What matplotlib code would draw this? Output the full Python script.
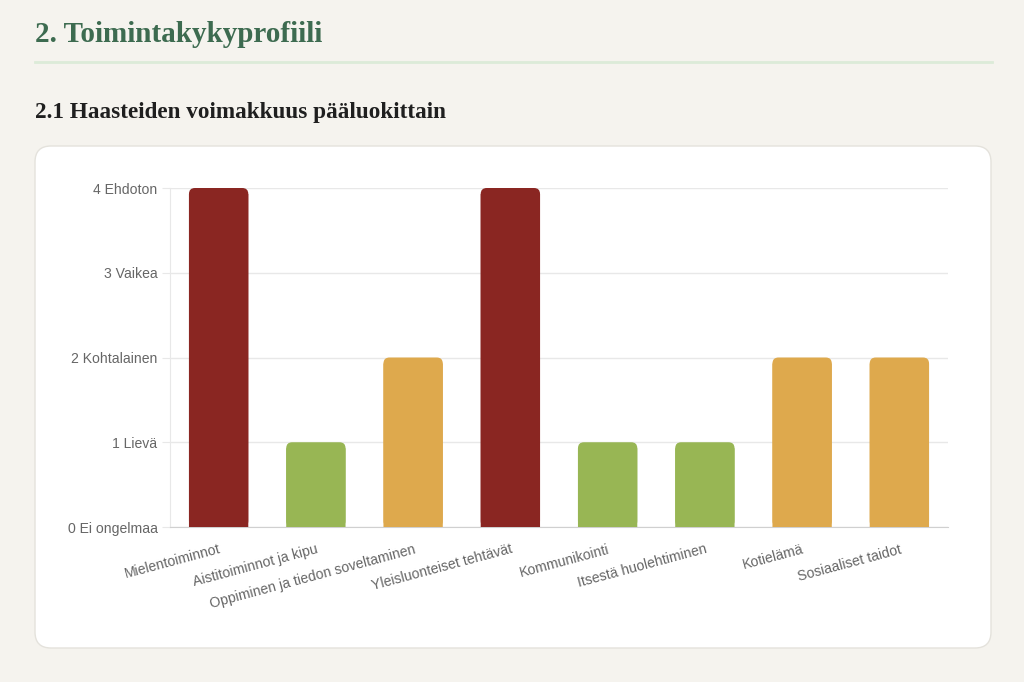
import matplotlib
matplotlib.use("Agg")
import matplotlib.pyplot as plt
from matplotlib.patches import FancyBboxPatch, Rectangle
from matplotlib.transforms import IdentityTransform
from matplotlib.lines import Line2D

# chart data
categories = ["Mielentoiminnot", "Aistitoiminnot ja kipu",
              "Oppiminen ja tiedon soveltaminen", "Yleisluonteiset tehtävät",
              "Kommunikointi", "Itsestä huolehtiminen", "Kotielämä",
              "Sosiaaliset taidot"]
values = [4, 1, 2, 4, 1, 1, 2, 2]
level_labels = ["0 Ei ongelmaa", "1 Lievä", "2 Kohtalainen", "3 Vaikea", "4 Ehdoton"]
level_colors = {1: "#98b654", 2: "#dea94d", 3: "#c0602f", 4: "#8a2622"}

W, H = 1024, 682
fig = plt.figure(figsize=(W / 100, H / 100), dpi=100)
fig.patch.set_facecolor("#f5f3ee")

# white card behind the chart (pixel coords)
card = FancyBboxPatch((35, H - 648), 956, 502,
                      boxstyle="round,pad=0,rounding_size=16",
                      transform=IdentityTransform(), facecolor="white",
                      edgecolor="#e4e2dc", linewidth=1, zorder=-5)
fig.add_artist(card)

# headings
fig.text(35 / W, 1 - 42 / H, "2. Toimintakykyprofiili", fontsize=21,
         fontweight="bold", color="#3d6b50", family="Liberation Serif",
         va="baseline", ha="left")
fig.add_artist(Line2D([35, 992], [H - 62, H - 62], transform=IdentityTransform(),
                      color="#dcebd8", linewidth=2))
fig.text(35 / W, 1 - 118 / H, "2.1 Haasteiden voimakkuus pääluokittain",
         fontsize=16.7, fontweight="bold", color="#1f1f1f",
         family="Liberation Serif", va="baseline", ha="left")

ax = fig.add_axes([170 / W, (H - 527) / H, 778 / W, 339 / H])
ax.set_facecolor("white")
ax.set_zorder(1)

x = list(range(len(categories)))
bw = 0.61
bars = ax.bar(x, values, width=bw, color=[level_colors[v] for v in values],
              zorder=3)

# round top corners: swap each bar for a rounded patch + square bottom part
r = 6 / 97.25
aspect = (4 / 339) / (8 / 778)
ry = 6 * 4 / 339
for b in bars:
    x0, w, h = b.get_x(), b.get_width(), b.get_height()
    c = b.get_facecolor()
    b.set_visible(False)
    top = FancyBboxPatch((x0, 0), w, h,
                         boxstyle="round,pad=0,rounding_size=%f" % r,
                         mutation_aspect=aspect, facecolor=c,
                         edgecolor="none", zorder=3)
    top.set_snap(False)
    ax.add_patch(top)
    base = Rectangle((x0, 0), w, h - ry, facecolor=c, edgecolor="none",
                     zorder=3)
    base.set_snap(False)
    ax.add_patch(base)

ax.set_xlim(-0.5, len(categories) - 0.5)
ax.set_ylim(0, 4)
ax.set_yticks(range(5))
ax.set_yticklabels(level_labels)
ax.set_xticks(x)
ax.set_xticklabels(categories, rotation=15, ha="right", rotation_mode="anchor")

for lab in ax.get_yticklabels() + ax.get_xticklabels():
    lab.set_family(["Liberation Sans", "DejaVu Sans"])
    lab.set_fontsize(10.1)
    lab.set_color("#666666")

ax.grid(axis="y", color="#e8e8e8", linewidth=1, zorder=0)
ax.tick_params(axis="y", length=6, color="#e8e8e8", pad=3)
ax.tick_params(axis="x", length=0, pad=11)
for s in ["top", "right"]:
    ax.spines[s].set_visible(False)
ax.spines["left"].set_color("#e8e8e8")
ax.spines["bottom"].set_color("#d0d0d0")
ax.set_axisbelow(True)

fig.savefig("out.png", dpi=100, facecolor=fig.get_facecolor())
